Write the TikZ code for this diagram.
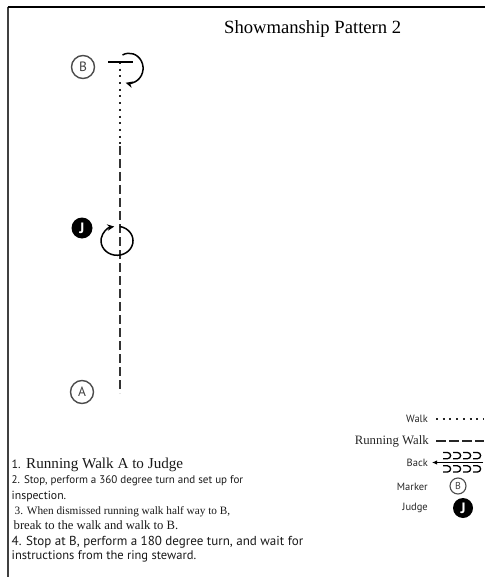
\documentclass[tikz,border=0pt]{standalone}
\usepackage{fontspec}
\setmainfont{Liberation Serif}
\setsansfont{PT Sans}
\usetikzlibrary{arrows.meta}
\newcommand{\fitw}[2]{\resizebox{#1}{!}{#2}}
\tikzset{
  markerc/.style={circle, draw=black!70, line width=1.4pt, minimum size=23pt, inner sep=0pt,
    font=\sffamily\fontsize{13.5}{13.5}\selectfont, text=black!75},
  markersmall/.style={markerc, minimum size=16pt, line width=1.1pt, font=\sffamily\fontsize{10}{10}\selectfont},
  judgec/.style={circle, fill=black, minimum size=21pt, inner sep=0pt, text=white,
    font=\sffamily\bfseries\fontsize{15}{15}\selectfont},
  walkline/.style={line width=2pt, dash pattern=on 2pt off 4.7pt, black!85},
  runline/.style={line width=2.5pt, dash pattern=on 9pt off 4pt, black!80},
  turn/.style={line width=1.5pt, -{Stealth[length=7pt,width=6.5pt]}},
  legtext/.style={anchor=base east, inner sep=0pt, font=\sffamily\fontsize{10.5}{11}\selectfont, text=black!85},
  instr/.style={anchor=base west, inner sep=0pt, text=black!90},
  sansins/.style={instr, font=\sffamily\fontsize{12}{13}\selectfont},
  serifins/.style={instr, font=\fontsize{11.5}{12}\selectfont},
  backarc/.style={line width=1.3pt}
}
\begin{document}
\begin{tikzpicture}[x=1pt,y=-1pt]
\useasboundingbox (0,0) rectangle (485,577);
% frame
\coordinate (fbl) at (7.5,577);
\coordinate (ftl) at (7.5,7);
\coordinate (ftr) at (485,7);
\draw[line width=2pt, black!75] (fbl) -- (ftl);
\draw[line width=1.6pt, black] (ftl) -- (ftr);
% title
\node[anchor=base west, inner sep=0pt, font=\fontsize{18.5}{19}\selectfont] (title) at (224,33.5) {\fitw{177pt}{Showmanship Pattern 2}};
% markers
\node[markerc] (B) at (83,67) {B};
\node[markerc] (A) at (82,392) {A};
\node[judgec] (J) at (82,228) {J};
% path
\coordinate (barL) at (108,62);
\coordinate (barR) at (133,62);
\coordinate (top) at (120,62);
\coordinate (half) at (120,146);
\coordinate (end) at (120,393);
\draw[walkline] (top) -- (half);
\draw[runline] (half) -- (end);
\draw[line width=1.8pt] (barL) -- (barR);
% turn at B
\draw[turn] (122.5,55) arc[start angle=118, end angle=-104, x radius=14pt, y radius=15pt];
% 360 turn at judge
\draw[turn] (119.8,226.5) arc[start angle=80, end angle=-260, x radius=16pt, y radius=14.5pt];
% legend
\node[legtext] (lwalk) at (428,422.5) {Walk};
\coordinate (lw1) at (436,419); \coordinate (lw2) at (484,419);
\draw[walkline] (lw1) -- (lw2);
\node[legtext, font=\fontsize{12.7}{13}\selectfont] (lrun) at (429,444.5) {\fitw{74pt}{Running Walk}};
\coordinate (lr1) at (436,441); \coordinate (lr2) at (484,441);
\draw[line width=2.3pt, dash pattern=on 9.5pt off 3.5pt, black!85] (lr1) -- (lr2);
\node[legtext] (lback) at (428,466.5) {Back};
\coordinate (lb1) at (483,462.5); \coordinate (lb2) at (432,462.5);
\draw[line width=1.2pt, -{Latex[length=5pt,width=4.5pt]}] (lb1) -- (lb2);
\foreach \x in {443,453,463,473}{
  \draw[backarc] (\x,452.5) -- (\x+4.5,452.5) arc[start angle=90, end angle=-90, radius=3.1pt] -- (\x,458.7);
  \draw[backarc] (\x,465.8) -- (\x+4.5,465.8) arc[start angle=90, end angle=-90, radius=3.1pt] -- (\x,472);
}
\node[legtext] (lmark) at (428,490.5) {Marker};
\node[markersmall] (lB) at (458,486) {B};
\node[legtext] (ljudge) at (428,510.5) {Judge};
\node[judgec, minimum size=20pt] (lJ) at (463,508) {J};
% instructions
\node[instr, font=\sffamily\fontsize{12}{12}\selectfont] (n1) at (11.5,468.5) {1.};
\node[instr, font=\fontsize{15}{16}\selectfont] (s1) at (26,468.5) {\fitw{157pt}{Running Walk A to Judge}};
\node[sansins] (s2) at (11.5,483) {\fitw{231.5pt}{2. Stop, perform a 360 degree turn and set up for}};
\node[sansins] (s3) at (11.5,499) {\fitw{54.5pt}{inspection.}};
\node[serifins] (s4) at (14.5,514) {\fitw{215.5pt}{3. When dismissed running walk half way to B,}};
\node[serifins] (s5) at (13.5,529) {\fitw{164.5pt}{break to the walk and walk to B.}};
\node[sansins] (s6) at (11.5,545) {\fitw{291.5pt}{4. Stop at B, perform a 180 degree turn, and wait for}};
\node[sansins] (s7) at (11.5,559) {\fitw{184.5pt}{instructions from the ring steward.}};
\end{tikzpicture}
\end{document}
